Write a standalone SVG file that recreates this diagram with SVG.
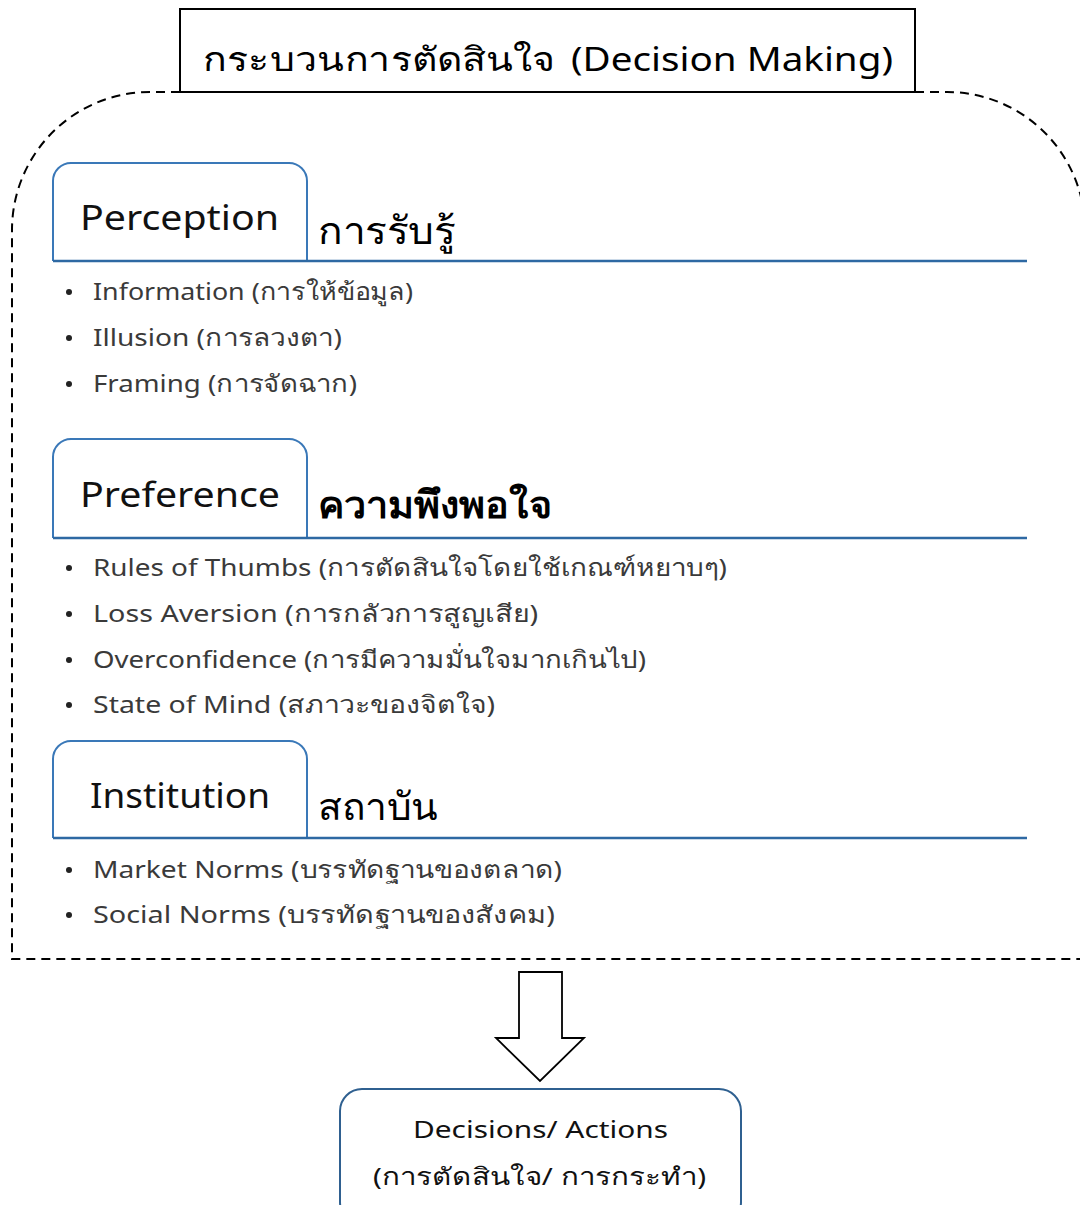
<svg xmlns="http://www.w3.org/2000/svg" width="1080" height="1205" viewBox="0 0 1080 1205">
<style>
text{font-family:"Noto Sans","DejaVu Sans",sans-serif}
.title{font-size:33px;fill:#000}
.tab{fill:#fff;stroke:#3A78B8;stroke-width:2}
.rule{stroke:#2E69A3;stroke-width:2.5}
.tabt{font-size:34px;fill:#111}
.th{font-size:38px;fill:#000}
.b{font-size:24px;fill:#3a3a3a}
.d{font-size:24px;fill:#111}
.dot{fill:#222}
.dash{fill:none;stroke:#000;stroke-width:2;stroke-dasharray:9 6}
</style>
<rect width="1080" height="1205" fill="#fff"/>
<g id="frame">
<path class="dash" d="M180 92 H150 A138 138 0 0 0 12 230 V959 H1080"/>
<path class="dash" d="M915 92 H947 A138 138 0 0 1 1085 230"/>
</g>
<g id="title">
<rect x="180" y="9" width="735" height="83" fill="#fff" stroke="#000" stroke-width="2"/>
<text class="title" y="71"><tspan x="203" textLength="352" lengthAdjust="spacingAndGlyphs">กระบวนการตัดสินใจ</tspan> <tspan x="571" textLength="322" lengthAdjust="spacingAndGlyphs">(Decision Making)</tspan></text>
</g>
<g id="perception">
<path class="tab" d="M53 261 V181 A18 18 0 0 1 71 163 H289 A18 18 0 0 1 307 181 V261"/>
<line class="rule" x1="53" y1="261" x2="1027" y2="261"/>
<text class="tabt" x="80" y="230" textLength="199" lengthAdjust="spacingAndGlyphs">Perception</text>
<text class="th" x="318" y="244" textLength="137" lengthAdjust="spacingAndGlyphs">การรับรู้</text>
<circle class="dot" cx="69" cy="292" r="3"/>
<text class="b" x="93" y="300" textLength="320" lengthAdjust="spacingAndGlyphs">Information (การให้ข้อมูล)</text>
<circle class="dot" cx="69" cy="338" r="3"/>
<text class="b" x="93" y="346" textLength="249" lengthAdjust="spacingAndGlyphs">Illusion (การลวงตา)</text>
<circle class="dot" cx="69" cy="384" r="3"/>
<text class="b" x="93" y="392" textLength="264" lengthAdjust="spacingAndGlyphs">Framing (การจัดฉาก)</text>
</g>
<g id="preference">
<path class="tab" d="M53 538 V457 A18 18 0 0 1 71 439 H289 A18 18 0 0 1 307 457 V538"/>
<line class="rule" x1="53" y1="538" x2="1027" y2="538"/>
<text class="tabt" x="80" y="507" textLength="200" lengthAdjust="spacingAndGlyphs">Preference</text>
<text class="th" x="318" y="518" font-weight="bold" textLength="234" lengthAdjust="spacingAndGlyphs">ความพึงพอใจ</text>
<circle class="dot" cx="69" cy="568" r="3"/>
<text class="b" x="93" y="576" textLength="634" lengthAdjust="spacingAndGlyphs">Rules of Thumbs (การตัดสินใจโดยใช้เกณฑ์หยาบๆ)</text>
<circle class="dot" cx="69" cy="614" r="3"/>
<text class="b" x="93" y="622" textLength="445" lengthAdjust="spacingAndGlyphs">Loss Aversion (การกลัวการสูญเสีย)</text>
<circle class="dot" cx="69" cy="660" r="3"/>
<text class="b" x="93" y="668" textLength="553" lengthAdjust="spacingAndGlyphs">Overconfidence (การมีความมั่นใจมากเกินไป)</text>
<circle class="dot" cx="69" cy="705" r="3"/>
<text class="b" x="93" y="713" textLength="402" lengthAdjust="spacingAndGlyphs">State of Mind (สภาวะของจิตใจ)</text>
</g>
<g id="institution">
<path class="tab" d="M53 838 V759 A18 18 0 0 1 71 741 H289 A18 18 0 0 1 307 759 V838"/>
<line class="rule" x1="53" y1="838" x2="1027" y2="838"/>
<text class="tabt" x="90" y="808" textLength="180" lengthAdjust="spacingAndGlyphs">Institution</text>
<text class="th" x="318" y="820" textLength="120" lengthAdjust="spacingAndGlyphs">สถาบัน</text>
<circle class="dot" cx="69" cy="870" r="3"/>
<text class="b" x="93" y="878" textLength="469" lengthAdjust="spacingAndGlyphs">Market Norms (บรรทัดฐานของตลาด)</text>
<circle class="dot" cx="69" cy="915" r="3"/>
<text class="b" x="93" y="923" textLength="462" lengthAdjust="spacingAndGlyphs">Social Norms (บรรทัดฐานของสังคม)</text>
</g>
<g id="connectors">
<polygon points="519,972 562,972 562,1038 584,1038 540,1081 496,1038 519,1038" fill="#fff" stroke="#000" stroke-width="1.8" stroke-linejoin="miter"/>
</g>
<g id="decision">
<rect x="340" y="1089" width="401" height="135" rx="22" fill="#fff" stroke="#2F6090" stroke-width="2"/>
<text class="d" x="413" y="1138" textLength="255" lengthAdjust="spacingAndGlyphs">Decisions/ Actions</text>
<text class="d" x="373" y="1185" textLength="333" lengthAdjust="spacingAndGlyphs">(การตัดสินใจ/ การกระทำ)</text>
</g>
</svg>
